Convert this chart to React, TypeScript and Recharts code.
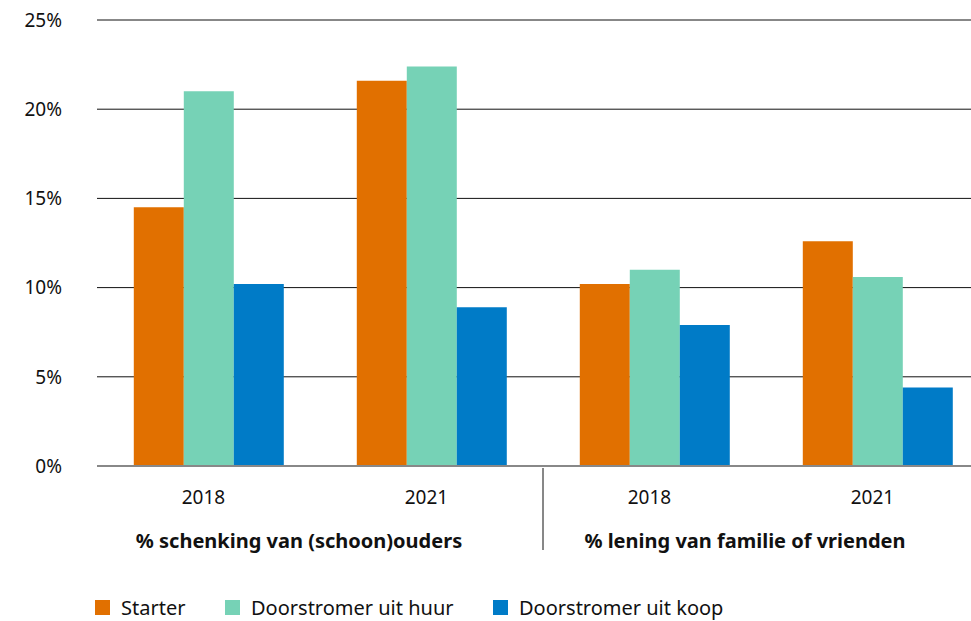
import React from 'react';
import { Bar, BarChart, CartesianGrid, Legend, XAxis, YAxis } from 'recharts';

const categories = ['2018', '2021', '2018', '2021'];
const groups = ['% schenking van (schoon)ouders', '% lening van familie of vrienden'];
const starter = [14.5, 21.6, 10.2, 12.6];
const huur = [21.0, 22.4, 11.0, 10.6];
const koop = [10.2, 8.9, 7.9, 4.4];
const yTicks = [0, 5, 10, 15, 20, 25];

const series = [
  { key: 'starter', name: 'Starter', color: '#e17000' },
  { key: 'huur', name: 'Doorstromer uit huur', color: '#76d2b6' },
  { key: 'koop', name: 'Doorstromer uit koop', color: '#007bc7' },
];

const data = categories.map((year, i) => ({
  id: `${year}-${i}`,
  year,
  group: groups[Math.floor(i / 2)],
  starter: starter[i],
  huur: huur[i],
  koop: koop[i],
}));

const FONT = '"Noto Sans", sans-serif';

const CategoryTick = (props: any) => {
  const { x, y, index, width } = props;
  const band = (width || 892) / categories.length;
  const row = data[index];
  return (
    <g>
      <text x={x - 5} y={y + 36} textAnchor="middle" fontFamily={FONT} fontSize={19} fill="#111">
        {row.year}
      </text>
      {index % 2 === 0 && (
        <text x={x + band / 2 - 21} y={y + 80} textAnchor="middle" fontFamily={FONT} fontSize={20} fontWeight="bold" fill="#111">
          {row.group}
        </text>
      )}
      {index === 2 && <line x1={x - band / 2} x2={x - band / 2} y1={y} y2={y + 82} stroke="#111" strokeWidth={1} />}
    </g>
  );
};

const itemWidths = [130, 268, 240];

const LegendContent = () => (
  <div style={{ display: 'flex', fontFamily: FONT, fontSize: 20, color: '#111', paddingLeft: 95 }}>
    {series.map((s, i) => (
      <div key={s.key} style={{ display: 'flex', alignItems: 'center', width: itemWidths[i], whiteSpace: 'nowrap' }}>
        <span style={{ display: 'inline-block', width: 15, height: 15, backgroundColor: s.color, marginRight: 11 }} />
        {s.name}
      </div>
    ))}
  </div>
);

const App = () => {
  return (
    <div style={{ position: 'absolute', left: 0, top: 0, width: 971, height: 621, overflow: 'hidden' }}>
      <BarChart
        width={989}
        height={621}
        data={data}
        margin={{ top: 20, right: 0, left: 0, bottom: 0 }}
        barCategoryGap="16.5%"
        barGap={0}
      >
        <CartesianGrid vertical={false} stroke="#111" strokeWidth={1} />
        <XAxis
          dataKey="id"
          height={128}
          tickLine={false}
          tickSize={0}
          axisLine={{ stroke: '#888', strokeWidth: 2 }}
          tick={<CategoryTick />}
          interval={0}
        />
        <YAxis
          width={97}
          domain={[0, 25]}
          ticks={yTicks}
          axisLine={false}
          tickLine={false}
          tickSize={0}
          tickMargin={35}
          tickFormatter={(v: number) => `${v}%`}
          tick={{ fontFamily: FONT, fontSize: 19, fill: '#111' }}
        />
        <Legend verticalAlign="bottom" content={<LegendContent />} wrapperStyle={{ left: 0, bottom: 0 }} />
        {series.map((s) => (
          <Bar key={s.key} dataKey={s.key} name={s.name} fill={s.color} isAnimationActive={false} />
        ))}
      </BarChart>
    </div>
  );
};

export default App;
